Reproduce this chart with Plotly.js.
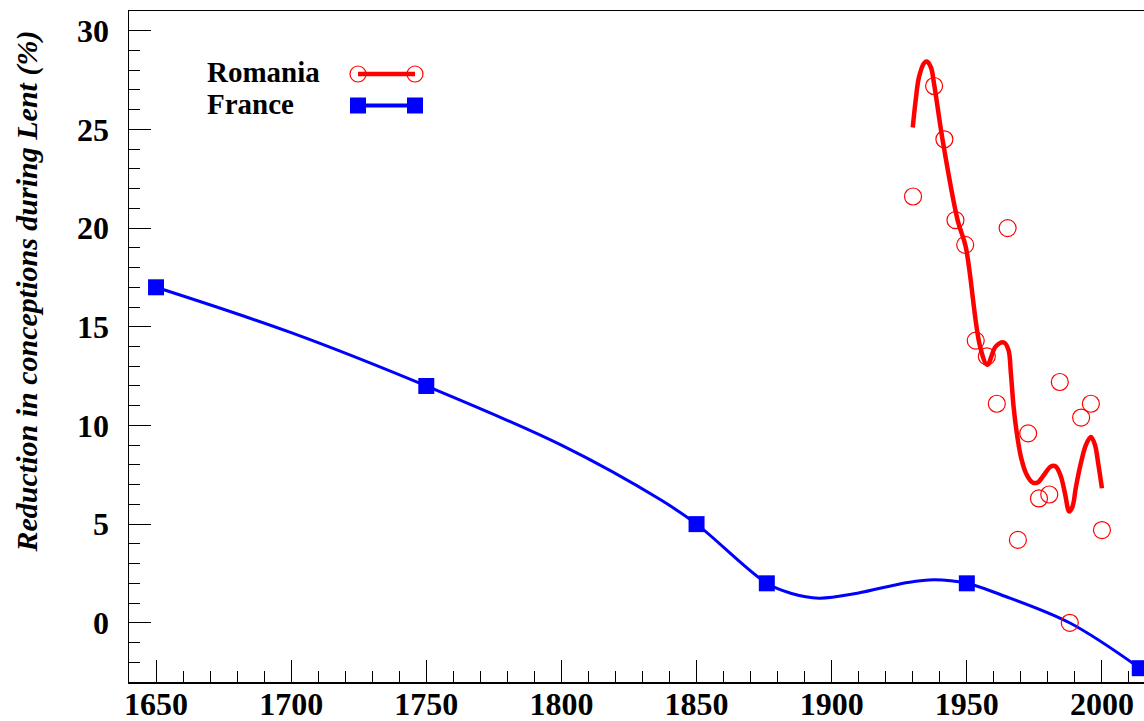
<!DOCTYPE html>
<html><head><meta charset="utf-8">
<script src="https://cdn.plot.ly/plotly-3.0.1.min.js"></script>
<style>html,body{margin:0;padding:0;overflow:hidden;background:#fff}</style>
</head><body><div id="chart" style="width:1156px;height:721px"></div>
<script>
// France: survey points (squares)
const franceYears = [1650, 1750, 1850, 1876, 1950, 2014];
const franceValues = [17, 12, 5, 2, 2, -2.3];

// France: smooth curve through the survey points
const franceCurveYears = [1650, 1700, 1750, 1800, 1836.7, 1850, 1876, 1884.8, 1895.3, 1909.5,
                          1928, 1937.9, 1950, 1962.6, 1988, 2014];
const franceCurveValues = [17, 14.7, 12, 9.0, 6.23, 5, 2, 1.5, 1.25, 1.5,
                           2.04, 2.18, 2, 1.42, 0, -2.3];

// Romania: yearly estimates (open circles)
const romaniaYears = [1930.1, 1937.9, 1941.7, 1945.8, 1949.4, 1953.3, 1957.4, 1961.1, 1965.1, 1968.9,
                      1972.7, 1976.7, 1980.5, 1984.4, 1988.1, 1992.3, 1995.9, 2000.0];
const romaniaValues = [21.6, 27.2, 24.5, 20.4, 19.15, 14.3, 13.5, 11.1, 20.0, 4.2,
                       9.6, 6.3, 6.5, 12.2, 0.0, 10.4, 11.1, 4.7];

// Romania: smoothed trend curve
const romaniaTrendYears = [1930.0, 1931.1, 1932.3, 1934.2, 1935.2, 1936.7, 1937.9, 1941.0, 1946.6, 1949.6,
                           1954.9, 1957.6, 1960.7, 1963.8, 1965.4, 1966.3, 1967.3, 1968.5, 1970.0, 1971.9,
                           1974.3, 1976.2, 1978.6, 1981.1, 1982.9, 1984.8, 1986.3, 1987.9, 1989.1, 1990.4,
                           1992.2, 1994.1, 1995.9, 1997.4, 1998.6, 2000.0];
const romaniaTrendValues = [25.1, 26.5, 27.65, 28.36, 28.44, 28.15, 27.3, 24.5, 20.4, 19.05,
                            14.0, 13.07, 14.0, 14.2, 13.83, 12.65, 10.96, 9.61, 8.42, 7.58,
                            7.11, 7.11, 7.5, 7.92, 7.92, 7.41, 6.57, 5.64, 5.89, 6.9,
                            8.09, 9.02, 9.41, 9.02, 8.09, 6.82];

const legendNames = ['Romania', 'France'];
const yTitle = '<i>Reduction in conceptions during Lent (%)</i>';

const FONT = 'Liberation Serif, Times New Roman, serif';
const RED = '#ff0000', BLUE = '#0000ff';

const traces = [
  {x: franceCurveYears, y: franceCurveValues, type: 'scatter', mode: 'lines', name: 'France curve',
   line: {shape: 'spline', smoothing: 1, color: BLUE, width: 3}},
  {x: franceYears, y: franceValues, type: 'scatter', mode: 'markers', name: 'France',
   marker: {symbol: 'square', size: 16, color: BLUE}},
  {x: romaniaTrendYears, y: romaniaTrendValues, type: 'scatter', mode: 'lines', name: 'Romania trend',
   line: {shape: 'spline', smoothing: 1, color: RED, width: 4.5}},
  {x: romaniaYears, y: romaniaValues, type: 'scatter', mode: 'markers', name: 'Romania',
   marker: {symbol: 'circle-open', size: 17, color: RED, line: {width: 1.2, color: RED}}}
];

const axisCommon = {
  showgrid: false, zeroline: false, showline: true, mirror: true,
  linecolor: '#000', linewidth: 1.5,
  ticks: 'inside', ticklen: 22, tickwidth: 1, tickcolor: '#000',
  tickfont: {family: FONT, size: 32, color: '#000', weight: 'bold'}
};

// Legend drawn manually: text on the left, symbol on the right (as in the reference)
const lx0 = (358 - 129) / 1027, lx1 = (415 - 129) / 1027;
const ly = [(682 - 74) / 671, (682 - 105.5) / 671];
const shapes = [
  {type: 'line', xref: 'paper', yref: 'paper', x0: lx0, x1: lx1, y0: ly[0], y1: ly[0], line: {color: RED, width: 4.5}},
  {type: 'circle', xref: 'paper', yref: 'paper', xsizemode: 'pixel', ysizemode: 'pixel', xanchor: lx0, yanchor: ly[0],
   x0: -8, x1: 8, y0: -8, y1: 8, line: {color: RED, width: 1.2}},
  {type: 'circle', xref: 'paper', yref: 'paper', xsizemode: 'pixel', ysizemode: 'pixel', xanchor: lx1, yanchor: ly[0],
   x0: -8, x1: 8, y0: -8, y1: 8, line: {color: RED, width: 1.2}},
  {type: 'line', xref: 'paper', yref: 'paper', x0: lx0, x1: lx1, y0: ly[1], y1: ly[1], line: {color: BLUE, width: 4}},
  {type: 'rect', xref: 'paper', yref: 'paper', xsizemode: 'pixel', ysizemode: 'pixel', xanchor: lx0, yanchor: ly[1],
   x0: -8, x1: 8, y0: -8, y1: 8, fillcolor: BLUE, line: {width: 0}},
  {type: 'rect', xref: 'paper', yref: 'paper', xsizemode: 'pixel', ysizemode: 'pixel', xanchor: lx1, yanchor: ly[1],
   x0: -8, x1: 8, y0: -8, y1: 8, fillcolor: BLUE, line: {width: 0}}
];

const annotations = [
  {text: legendNames[0], xref: 'paper', yref: 'paper', x: (205 - 129) / 1027, y: (682 - 72) / 671,
   xanchor: 'left', yanchor: 'middle', showarrow: false,
   font: {family: FONT, size: 29, color: '#000', weight: 'bold'}},
  {text: legendNames[1], xref: 'paper', yref: 'paper', x: (205 - 129) / 1027, y: (682 - 104) / 671,
   xanchor: 'left', yanchor: 'middle', showarrow: false,
   font: {family: FONT, size: 29, color: '#000', weight: 'bold'}},
  {text: yTitle, xref: 'paper', yref: 'paper', x: (26 - 129) / 1027, y: (682 - 291.5) / 671,
   xanchor: 'center', yanchor: 'middle', textangle: -90, showarrow: false,
   font: {family: FONT, size: 30, color: '#000', weight: 'bold'}}
];

const layout = {
  width: 1156, height: 721,
  margin: {l: 129, r: 0, t: 11, b: 39, pad: 0},
  paper_bgcolor: '#fff', plot_bgcolor: '#fff',
  showlegend: false,
  xaxis: Object.assign({}, axisCommon, {
    range: [1640, 2020], tick0: 1650, dtick: 50, ticklabelstandoff: -7,
    minor: {dtick: 10, tick0: 1650, ticks: 'inside', ticklen: 11, tickwidth: 1, tickcolor: '#000'}
  }),
  yaxis: Object.assign({}, axisCommon, {
    range: [-3, 31], tick0: 0, dtick: 5, ticklabelstandoff: 12,
    minor: {dtick: 1, tick0: 0, ticks: 'inside', ticklen: 11, tickwidth: 1, tickcolor: '#000'}
  }),
  shapes: shapes,
  annotations: annotations
};

Plotly.newPlot('chart', traces, layout, {displayModeBar: false, staticPlot: true});
</script>
</body></html>
